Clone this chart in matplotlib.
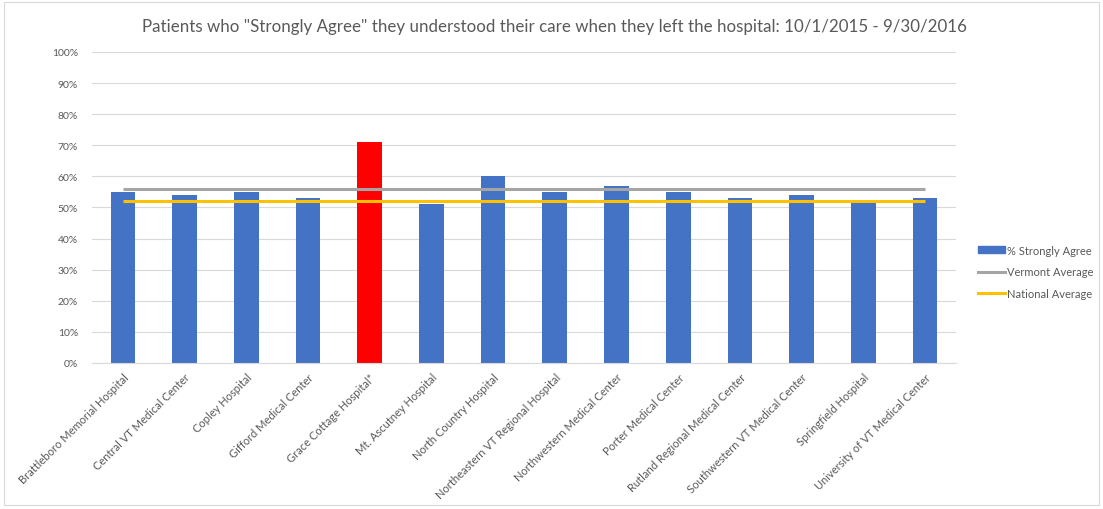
import matplotlib
matplotlib.use("Agg")
import matplotlib.pyplot as plt
from matplotlib.patches import Rectangle
from matplotlib.lines import Line2D
from matplotlib.ticker import PercentFormatter

plt.rcParams['font.family'] = ['Lato', 'DejaVu Sans']

hospitals = ["Brattleboro Memorial Hospital", "Central VT Medical Center", "Copley Hospital",
             "Gifford Medical Center", "Grace Cottage Hospital*", "Mt. Ascutney Hospital",
             "North Country Hospital", "Northeastern VT Regional Hospital",
             "Northwestern Medical Center", "Porter Medical Center",
             "Rutland Regional Medical Center", "Southwestern VT Medical Center",
             "Springfield Hospital", "University of VT Medical Center"]
strongly_agree = [55, 54, 55, 53, 71, 51, 60, 55, 57, 55, 53, 54, 52, 53]
vermont_avg = [56] * len(hospitals)
national_avg = [52] * len(hospitals)
highlight = "Grace Cottage Hospital*"

fig = plt.figure(figsize=(11.03, 5.10), dpi=100)
fig.patches.append(Rectangle((0.004, 0.008), 0.992, 0.986, transform=fig.transFigure,
                             fill=False, edgecolor='#d9d9d9', linewidth=0.8))
ax = fig.add_axes([0.0834, 0.2863, 0.7833, 0.6098])

x = list(range(len(hospitals)))
colors = ['#ff0000' if h == highlight else '#4472c4' for h in hospitals]
ax.bar(x, strongly_agree, width=0.4, color=colors, zorder=2)
ax.plot(x, vermont_avg, color='#a5a5a5', linewidth=2.2, zorder=3, solid_capstyle='butt')
ax.plot(x, national_avg, color='#ffc000', linewidth=2.2, zorder=4, solid_capstyle='butt')

ax.set_xlim(-0.5, len(hospitals) - 0.5)
ax.set_ylim(0, 100)
ax.set_yticks(range(0, 101, 10))
ax.yaxis.set_major_formatter(PercentFormatter(decimals=0))
ax.grid(axis='y', color='#d9d9d9', linewidth=0.8, zorder=0)
ax.set_axisbelow(True)
for s in ['top', 'right', 'left']:
    ax.spines[s].set_visible(False)
ax.spines['bottom'].set_color('#d9d9d9')
ax.tick_params(axis='both', length=0, colors='#595959', labelsize=7.5)
ax.tick_params(axis='y', pad=10)
ax.set_xticks(x)
ax.set_xticklabels(hospitals, rotation=45, ha='right', rotation_mode='anchor', fontsize=8)
ax.tick_params(axis='x', pad=6)

fig.text(0.5025, 0.947, 'Patients who "Strongly Agree" they understood their care when they left the hospital: 10/1/2015 - 9/30/2016',
         ha='center', va='center', fontsize=12.2, color='#595959')

handles = [Rectangle((0, 0), 1, 1, color='#4472c4'),
           Line2D([0], [0], color='#a5a5a5', linewidth=2.2),
           Line2D([0], [0], color='#ffc000', linewidth=2.2)]
labels = ['% Strongly Agree', 'Vermont Average', 'National Average']
fig.legend(handles, labels, loc='center left', bbox_to_anchor=(0.878, 0.465), frameon=False,
           fontsize=8, labelcolor='#595959', handlelength=2.4, handleheight=0.6,
           handletextpad=0.15, labelspacing=0.95)

fig.savefig('out.png', dpi=100)
